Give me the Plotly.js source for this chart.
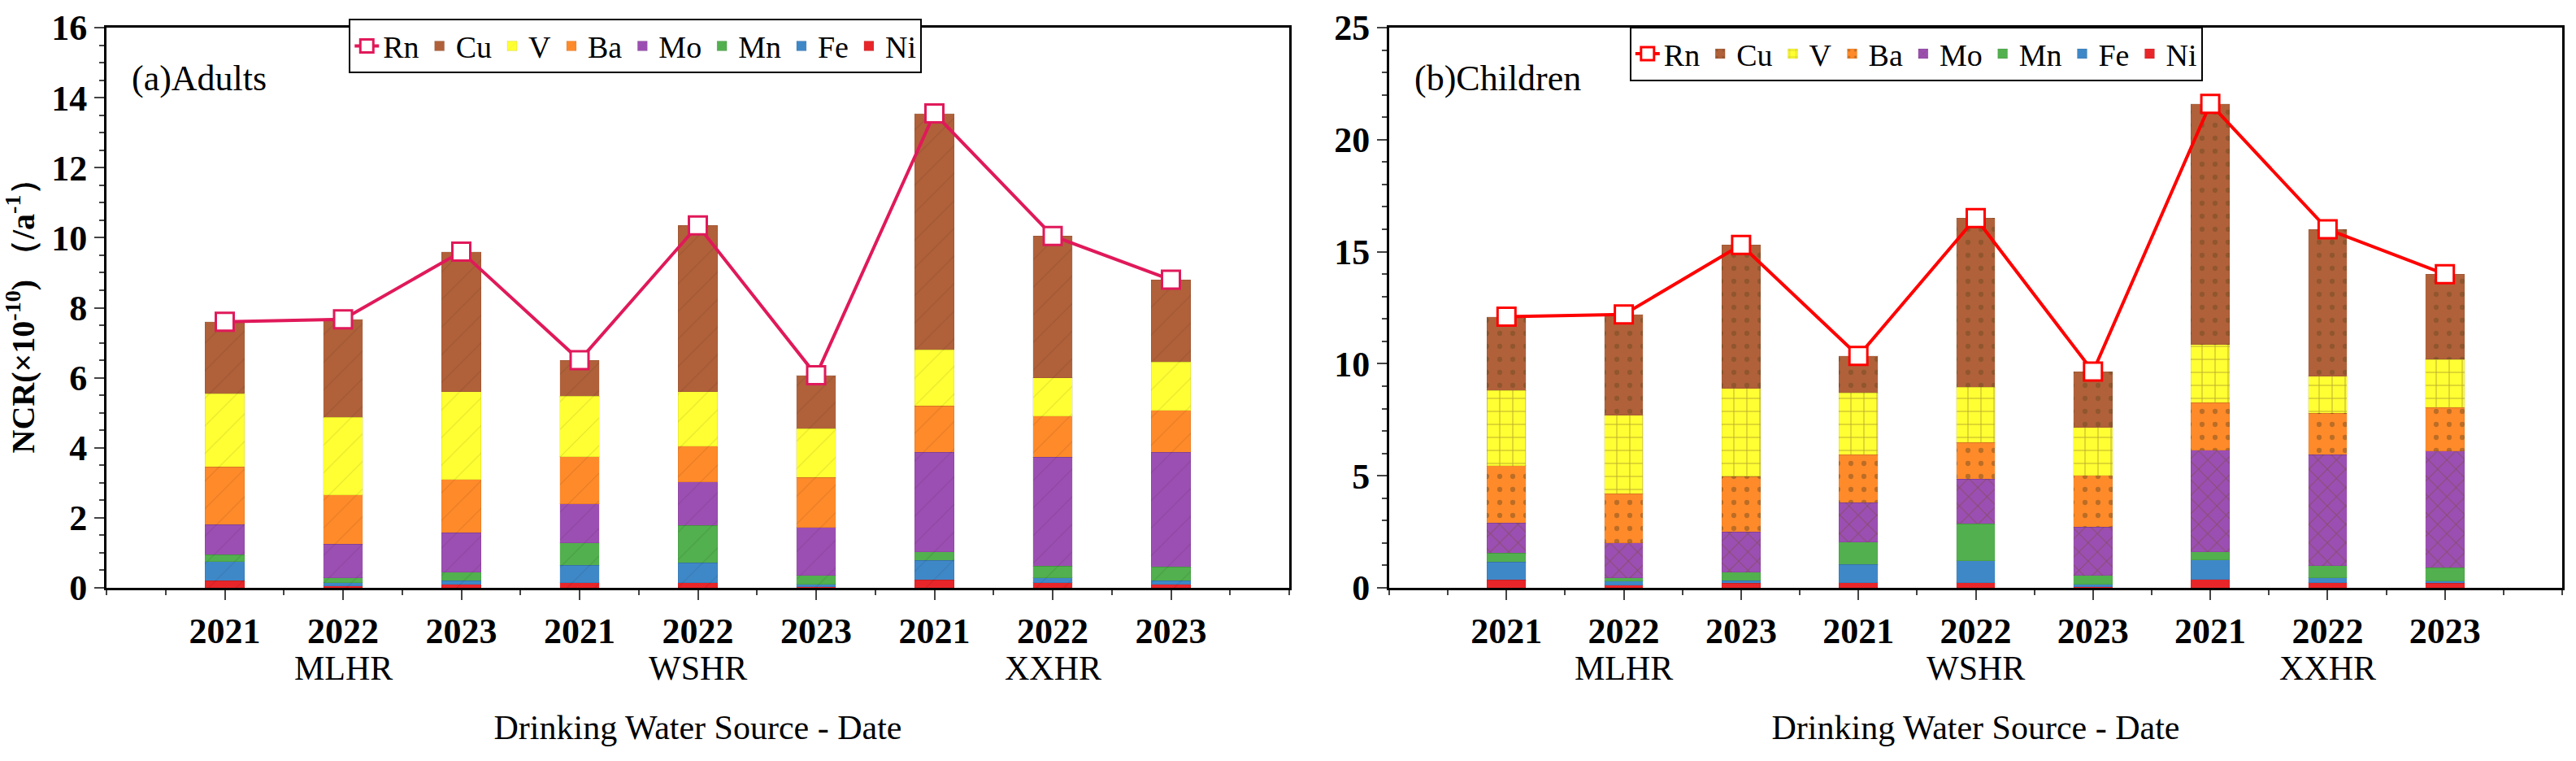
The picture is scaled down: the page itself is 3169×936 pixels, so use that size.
<!DOCTYPE html>
<html>
<head>
<meta charset="utf-8">
<script src="https://cdn.plot.ly/plotly-3.0.1.min.js"></script>
<style>body{margin:0;background:#fff}#chart{width:3169px;height:936px}</style>
</head>
<body>
<div id="chart"></div>
<script>
// categories (position 0..8) and their labels
const years = ['2021', '2022', '2023', '2021', '2022', '2023', '2021', '2022', '2023'];
const sources = ['MLHR', 'WSHR', 'XXHR'];
const elements = ['Ni', 'Fe', 'Mn', 'Mo', 'Ba', 'V', 'Cu'];

// cumulative top of each stacked segment (x 1e-10 /a)
const adultTops = {
    Ni: [0.20, 0.05, 0.10, 0.15, 0.15, 0.03, 0.23, 0.15, 0.10],
    Fe: [0.75, 0.15, 0.20, 0.65, 0.72, 0.10, 0.78, 0.28, 0.20],
    Mn: [0.95, 0.28, 0.45, 1.28, 1.78, 0.36, 1.03, 0.62, 0.60],
    Mo: [1.80, 1.25, 1.57, 2.40, 3.02, 1.72, 3.87, 3.73, 3.87],
    Ba: [3.45, 2.65, 3.10, 3.75, 4.05, 3.15, 5.20, 4.90, 5.07],
    V:  [5.55, 4.87, 5.60, 5.48, 5.60, 4.55, 6.80, 6.00, 6.45],
    Cu: [7.60, 7.67, 9.60, 6.50, 10.35, 6.07, 13.55, 10.05, 8.80]
};
const childTops = {
    Ni: [0.35, 0.12, 0.20, 0.22, 0.22, 0.05, 0.38, 0.22, 0.20],
    Fe: [1.15, 0.30, 0.32, 1.05, 1.20, 0.15, 1.25, 0.45, 0.30],
    Mn: [1.55, 0.45, 0.70, 2.05, 2.85, 0.55, 1.60, 0.98, 0.90],
    Mo: [2.90, 2.00, 2.50, 3.80, 4.85, 2.72, 6.15, 5.95, 6.10],
    Ba: [5.45, 4.20, 4.97, 5.95, 6.48, 5.02, 8.27, 7.80, 8.05],
    V:  [8.80, 7.70, 8.90, 8.70, 8.95, 7.15, 10.85, 9.45, 10.20],
    Cu: [12.10, 12.20, 15.30, 10.35, 16.50, 9.65, 21.60, 16.00, 14.00]
};
// Rn line = total NCR
const adultRn = [7.60, 7.67, 9.60, 6.50, 10.35, 6.07, 13.55, 10.05, 8.80];
const childRn = [12.10, 12.20, 15.30, 10.35, 16.50, 9.65, 21.60, 16.00, 14.00];

const colors = { Ni: '#e8262a', Fe: '#3f88c8', Mn: '#52b04e', Mo: '#9c4fb2', Ba: '#ff8a2a', V: '#ffff33', Cu: '#b0613a' };
const childPattern = { Ni: '', Fe: '', Mn: '', Mo: 'x', Ba: '.', V: '+', Cu: '.' };

const font = 'Liberation Serif, Times New Roman, serif';
const xs = years.map((_, i) => i);

function buildTraces(tops, rn, ax, legendId, lineColor, child) {
    const traces = [{
        x: xs, y: rn, name: 'Rn', type: 'scatter', mode: 'lines+markers',
        xaxis: 'x' + ax, yaxis: 'y' + ax, legend: legendId, legendrank: 1,
        line: { color: lineColor, width: 4 },
        marker: { symbol: 'square', size: 22, color: '#fff', line: { color: lineColor, width: 3 } }
    }];
    elements.forEach((el, k) => {
        const below = k === 0 ? xs.map(() => 0) : tops[elements[k - 1]];
        traces.push({
            x: xs, y: tops[el].map((v, i) => Math.max(v - below[i], 0)),
            name: el, type: 'bar', width: 0.33,
            xaxis: 'x' + ax, yaxis: 'y' + ax, legend: legendId, legendrank: 10 - k,
            marker: {
                color: colors[el], line: { color: 'rgba(0,0,0,0.08)', width: 1 },
                pattern: child
                    ? { shape: childPattern[el], bgcolor: colors[el], fgcolor: '#6a4a20', fgopacity: 0.45, size: 16, solidity: 0.12 }
                    : { shape: '/', bgcolor: colors[el], fgcolor: '#000', fgopacity: 0.1, size: 24, solidity: 0.05 }
            }
        });
    });
    return traces;
}

const data = buildTraces(adultTops, adultRn, '', 'legend', '#e0195a', false)
    .concat(buildTraces(childTops, childRn, '2', 'legend2', '#ff0000', true));

const xBase = {
    range: [-1, 9], tickvals: xs, ticktext: years, showgrid: false, zeroline: false,
    showline: true, linecolor: '#000', linewidth: 3, mirror: true,
    ticks: 'outside', ticklen: 12, tickwidth: 2,
    minor: { dtick: 0.5, tick0: 0.5, ticks: 'outside', ticklen: 6, tickwidth: 2 },
    tickfont: { family: font, size: 44, color: '#000', weight: 'bold' },
    title: { text: 'Drinking Water Source - Date', font: { family: font, size: 42, color: '#000' }, standoff: 80 }
};
const yBase = {
    showgrid: false, zeroline: false, showline: true, linecolor: '#000', linewidth: 3, mirror: true,
    ticks: 'outside', ticklen: 12, tickwidth: 2,
    minor: { ticks: 'outside', ticklen: 6, tickwidth: 2 },
    tickfont: { family: font, size: 44, color: '#000', weight: 'bold' }
};
const legendBase = {
    orientation: 'h', bgcolor: '#fff', bordercolor: '#000', borderwidth: 2,
    font: { family: font, size: 38, color: '#000' }, traceorder: 'normal',
    itemwidth: 30, tracegroupgap: 0, yanchor: 'top', xanchor: 'left'
};

const annotations = [
    { text: '(a)Adults', xref: 'x domain', yref: 'y domain', x: 0.02, y: 0.91, showarrow: false, xanchor: 'left', yanchor: 'middle', font: { family: font, size: 44, color: '#000' } },
    { text: '(b)Children', xref: 'x2 domain', yref: 'y2 domain', x: 0.02, y: 0.91, showarrow: false, xanchor: 'left', yanchor: 'middle', font: { family: font, size: 44, color: '#000' } }
];
['', '2'].forEach(ax => {
    sources.forEach((s, g) => {
        annotations.push({ text: s, xref: 'x' + ax, yref: 'paper', x: g * 3 + 1, y: 0.122, yanchor: 'middle', showarrow: false, font: { family: font, size: 42, color: '#000' } });
    });
});

const layout = {
    width: 3169, height: 936, paper_bgcolor: '#fff', plot_bgcolor: '#fff',
    margin: { l: 0, r: 0, t: 0, b: 0 }, barmode: 'stack', bargap: 0,
    xaxis: Object.assign({}, xBase, { domain: [131 / 3169, 1586 / 3169], anchor: 'y' }),
    xaxis2: Object.assign({}, xBase, { domain: [1709 / 3169, 3152 / 3169], anchor: 'y2' }),
    yaxis: Object.assign({}, yBase, { domain: [1 - 723 / 936, 1 - 34 / 936], range: [0, 16], dtick: 2, anchor: 'x',
        title: { text: 'NCR(×10<sup>-10</sup>) （/a<sup>-1</sup>）', font: { family: font, size: 40, color: '#000', weight: 'bold' }, standoff: 14 } }),
    yaxis2: Object.assign({}, yBase, { domain: [1 - 723 / 936, 1 - 34 / 936], range: [0, 25], dtick: 5, anchor: 'x2' }),
    legend: Object.assign({}, legendBase, { y: 0.975 }),
    legend2: Object.assign({}, legendBase, { y: 0.965 }),
    annotations: annotations,
    showlegend: true
};
// legends placed relative to their own panel
layout.legend.x = 131 / 3169 + 0.205 * (1586 - 131) / 3169;
layout.legend2.x = 1709 / 3169 + 0.205 * (3152 - 1709) / 3169;

Plotly.newPlot('chart', data, layout, { displayModeBar: false, staticPlot: true });
</script>
</body>
</html>
